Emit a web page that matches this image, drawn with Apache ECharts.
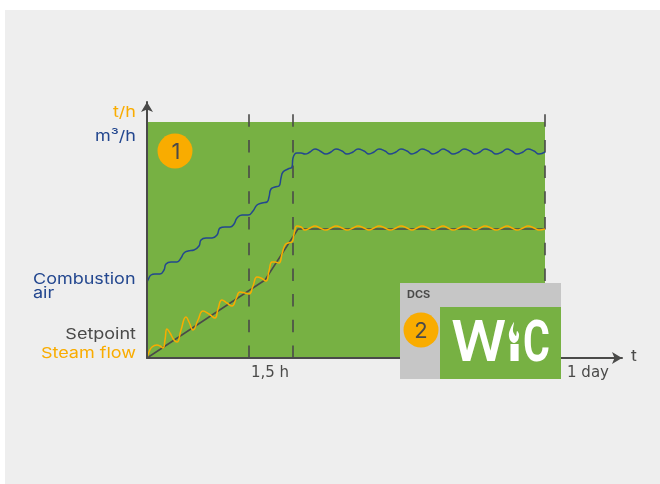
<!DOCTYPE html>
<html><head><meta charset="utf-8">
<script src="https://cdn.jsdelivr.net/npm/echarts@6/dist/echarts.min.js"></script>
<style>html,body{margin:0;padding:0;background:#fff}#c{width:660px;height:484px}</style>
</head><body><div id="c"></div>
<script>
// Values, in axis units (x: 398 = 1 day span, y: 236 = top of the green band)
const setpoint = [[0,0],[118,78],[151,129],[398,129]];
const combustionAir = [[0,76],[1,78],[4,83],[8,84],[13,84],[17,88],[19,94],[24,96],[30,96],[34,100],[37,105],[41,107],[47,108],[52,112],[54,118],[59,120],[65,120],[70,123],[73,130],[78,131],[83,131],[87,134],[90,140],[95,143],[101,143],[106,147],[110,153],[115,155],[120,156],[122,161],[124,169],[128,171],[132,172],[134,180],[136,186],[141,189],[145,191],[146,200],[150,205],[154,205],[158,204],[163,206],[168,209],[173,207],[179,204],[184,206],[189,209],[195,207],[200,204],[206,206],[211,209],[217,207],[222,204],[227,206],[232,209],[238,207],[243,204],[249,206],[254,209],[260,207],[265,204],[270,206],[275,209],[281,207],[286,204],[291,206],[296,209],[301,207],[306,204],[312,206],[317,209],[323,207],[328,204],[333,206],[338,209],[344,207],[349,204],[355,206],[360,209],[365,207],[370,204],[376,206],[381,209],[387,207],[392,204],[398,206]];
const steamFlow = [[0,0],[2,6],[5,11],[10,13],[13,12],[16,10],[18,18],[20,29],[23,25],[27,18],[30,16],[34,28],[39,41],[42,36],[46,28],[51,38],[56,47],[62,44],[68,40],[71,49],[75,58],[80,55],[85,52],[89,59],[93,66],[98,65],[102,64],[106,72],[110,81],[114,80],[119,77],[122,87],[125,96],[128,96],[132,95],[135,104],[138,113],[141,115],[145,116],[147,124],[150,132],[154,131],[158,128],[163,130],[168,132],[173,130],[179,128],[184,130],[189,132],[195,130],[200,128],[206,130],[211,132],[217,130],[222,128],[227,130],[232,132],[238,130],[243,128],[249,130],[254,132],[260,130],[265,128],[270,130],[275,132],[281,130],[286,128],[291,130],[296,132],[301,130],[306,128],[312,130],[317,132],[323,130],[328,128],[333,130],[338,132],[344,130],[349,128],[355,130],[360,132],[365,130],[370,128],[376,130],[381,132],[387,130],[392,128],[398,129]];
const dashMarks = [102,146,398];
const xTickLabels = {123:'1,5 h',441:'1 day'};
const xTickValues = [123,441];

const FONT = 'Inter';
const DARK = '#4a4a49', ORANGE = '#f9ac00', BLUE = '#23478f', GREEN = '#77b143', PANEL='#c6c6c6';
const T = (x,y,text,fill,extra,sx) => ({type:'text',z:50,silent:true,originX:x,originY:y,scaleX:sx||1.2,style:Object.assign({x,y,text,fill,font:'400 15px '+FONT,textAlign:'right',textVerticalAlign:'middle'},extra||{})});

const chart = echarts.init(document.getElementById('c'),null,{renderer:'canvas'});
chart.setOption({
  animation:false,
  backgroundColor:'#fff',
  grid:{left:147,top:102,width:475,height:256,containLabel:false},
  xAxis:{type:'value',min:0,max:475,splitLine:{show:false},axisTick:{show:false},z:6,
    axisLine:{onZero:false,symbol:['none','arrow'],symbolSize:[9,10],lineStyle:{color:DARK,width:2}},
    axisLabel:{customValues:xTickValues,formatter:v=>xTickLabels[v]||'',color:DARK,fontFamily:'DejaVu Sans',fontSize:15,margin:8,showMinLabel:true,showMaxLabel:true}},
  yAxis:{type:'value',min:0,max:256,splitLine:{show:false},axisTick:{show:false},axisLabel:{show:false},z:6,
    axisLine:{show:true,onZero:false,symbol:['none','arrow'],symbolSize:[9,10],lineStyle:{color:DARK,width:2}}},
  series:[
    {name:'Setpoint',type:'line',data:setpoint,showSymbol:false,z:3,clip:false,lineStyle:{color:DARK,width:1.5},
      markArea:{silent:true,z:1,itemStyle:{color:GREEN,opacity:1},data:[[{coord:[0,0]},{coord:[398,236]}]]},
      markLine:{silent:true,symbol:'none',z:2,label:{show:false},lineStyle:{color:DARK,width:1.6,type:[12.5,13.2]},
        data:dashMarks.map(x=>[{coord:[x,0]},{coord:[x,246]}])}},
    {name:'Combustion air',type:'line',data:combustionAir,showSymbol:false,smooth:0.5,z:4,lineStyle:{color:BLUE,width:1.5}},
    {name:'Steam flow',type:'line',data:steamFlow,showSymbol:false,smooth:0.5,z:5,lineStyle:{color:ORANGE,width:1.5}}
  ],
  graphic:[
    {type:'rect',z:-10,zlevel:-1,shape:{x:5,y:10,width:655,height:474},style:{fill:'#eeeeee'}},
    T(136,112,'t/h',ORANGE),
    T(136,136,'m³/h',BLUE),
    T(33,279,'Combustion',BLUE,{textAlign:'left'}),
    T(33,293,'air',BLUE,{textAlign:'left'}),
    T(136,334,'Setpoint',DARK),
    T(136,353,'Steam flow',ORANGE),
    T(631,356,'t',DARK,{textAlign:'left'}),
    {type:'circle',z:50,shape:{cx:175,cy:151,r:17.5},style:{fill:ORANGE}},
    T(176,152,'1',DARK,{textAlign:'center',font:'400 22px '+FONT},1),
    {type:'rect',z:60,shape:{x:400,y:283,width:161,height:96},style:{fill:PANEL}},
    {type:'rect',z:61,shape:{x:440,y:307,width:121,height:72},style:{fill:GREEN}},
    Object.assign(T(407,295,'DCS',DARK,{textAlign:'left',font:'700 10px '+FONT},1.1),{z:62}),
    {type:'circle',z:62,shape:{cx:421,cy:330,r:17.5},style:{fill:ORANGE}},
    Object.assign(T(421,331,'2',DARK,{textAlign:'center',font:'400 22px '+FONT},1),{z:63}),
    {type:'text',z:63,originX:451,scaleX:1.1,style:{x:451,y:347,text:'W',fill:'#fff',font:'500 57px Roboto',textVerticalAlign:'middle'}},
    {type:'text',z:63,style:{x:507,y:347,text:'i',fill:'#fff',font:'700 57px Roboto',textVerticalAlign:'middle'}},
    {type:'text',z:63,originX:523,scaleX:0.72,style:{x:523,y:347,text:'C',fill:'#fff',font:'700 57px Roboto',textVerticalAlign:'middle'}},
    {type:'rect',z:64,shape:{x:505,y:312,width:18,height:32},style:{fill:GREEN}},
    {type:'polygon',z:65,shape:{points:[[514,322],[509,333],[510,340],[514,343],[518,340],[519,334],[517,331],[516,336],[513,331]],smooth:0.3},style:{fill:'#fff'}}
  ]
});
</script></body></html>
